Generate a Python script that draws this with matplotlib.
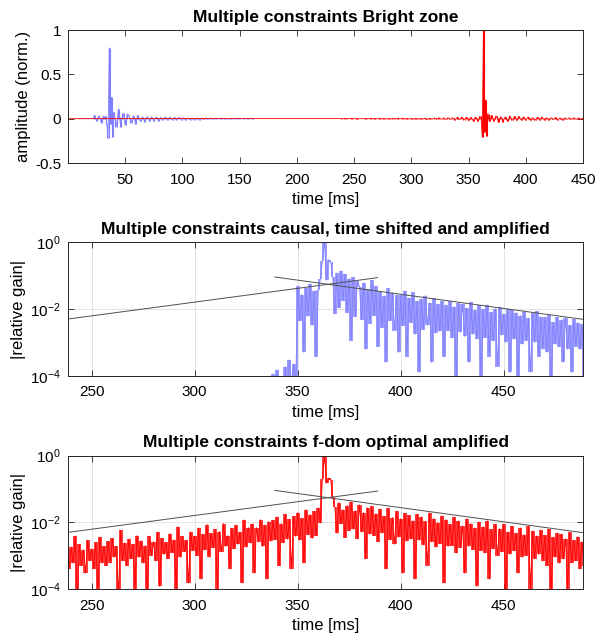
import numpy as np
import matplotlib
matplotlib.use("Agg")
import matplotlib.pyplot as plt
from matplotlib.ticker import NullLocator

# --- data: filter amplitudes in 1e-3 units, one sample per ms ---
CAUSAL_T0 = 9     # ms, first stored sample of the causal filter
FDOM_T0 = 238     # ms, first stored sample of the f-dom optimal filter
SHIFT_MS = 327    # time shift applied to the causal filter

causal_amp = [
    0.03, 0.01, -0.09, -0.02, 0.12, 0.02, -0.04, -0.01, 0.15, 0.03,     # 9-18
    0.24, 0.05, -0.18, -0.03,                                           # 19-22
    38.0, 3.5, -21.7, -0.4, 33.6, 4.8, -45.2, -2.6, 27.9, 0.3,          # 23-32
    29.1, -61.8, -220, 800, -58.3, 240, -205, 72.4, 5.7, -96.0,         # 33-42
    -8.5, 112.0, 14.3, -88.6, -6.2, 65.1, 0.9, -71.3, -4.7, 54.7,       # 43-52
    36.9, 3.8, -49.2, -0.5, 31.4, 2.9, -57.5, -5.1, 38.8, 0.6,          # 53-62
    -26.7, -2.2, 19.9, 0.2, -33.4, -3.6, 24.3, 1.8, -21.6, -0.4,        # 63-72
    21.6, 2.5, -28.0, -0.3, 17.4, 3.1, -25.2, -1.4, 13.6, 0.1,          # 73-82
    -15.8, -1.9, 20.3, 2.6, -12.4, -0.2, 16.9, 1.5, -11.2, -1.7,        # 83-92
    14.1, 0.3, -10.7, -1.8, 13.5, 1.1, -9.4, -0.06, 12.0, 1.6,          # 93-102
    -11.6, -1.2, 8.5, 0.2, -12.9, -1.4, 7.3, 1.0, -10.2, -0.05,         # 103-112
    7.8, 1.1, -10.6, -0.3, 6.4, 0.9, -8.2, -0.15, 9.1, 1.3,             # 113-122
    -5.7, -0.8, 8.0, 0.1, -7.3, -1.0, 6.2, 0.06, -5.1, -0.7,            # 123-132
    6.6, 0.9, -4.2, -0.1, 5.9, 0.8, -6.8, -0.3, 4.6, 0.5,               # 133-142
    -4.6, -0.4, 5.3, 0.04, -3.2, -0.7, 4.5, 0.6, -3.8, -0.2,            # 143-152
    4.4, 0.5, -2.6, -0.1, 3.9, 0.6, -3.1, -0.5, 2.8, 0.08,              # 153-162
]

fdom_amp = [
    2.4, 0.4, -1.8, -0.6, 3.9, 0.05, -2.2, -0.5, 1.5, 0.3,              # 238-247
    2.9, 0.7, -1.6, -0.4, 2.5, 0.08, -3.6, -0.6, 1.9, 0.5,              # 248-257
    -2.7, -0.6, 3.3, 0.9, -1.9, -0.06, 5.8, 0.7, -2.4, -0.5,            # 258-267
    3.1, 0.8, -2.2, -0.1, 4.0, 0.9, -2.8, -0.6, 2.0, 0.07,              # 268-277
    -3.9, -1.0, 2.6, 0.7, -5.1, -0.12, 3.3, 1.1, -2.5, -0.8,            # 278-287
    4.6, 1.2, -3.0, -0.09, 7.4, 0.9, -3.8, -1.3, 2.9, 0.15,             # 288-297
    -5.2, -1.4, 3.9, 1.0, -6.8, -0.2, 4.4, 1.5, -8.6, -0.9,             # 298-307
    4.7, 1.7, -6.1, -0.1, 5.3, 1.3, -9.2, -1.9, 4.0, 0.4,               # 308-317
    -6.6, -1.6, 8.3, 2.2, -5.2, -0.15, 11.8, 1.8, -7.0, -2.4,           # 318-327
    9.0, 0.3, -6.9, -2.6, 12.1, 1.9, -8.3, -0.2, 10.5, 2.7,             # 328-337
    -11.4, -3.0, 14.6, 0.5, -9.2, -2.4, 17.8, 3.1, -12.3, -0.4,         # 338-347
    15.2, 3.8, -19.6, -2.9, 13.4, 0.6, -24.0, -4.2, 17.1, 3.3,          # 348-357
    -21.5, -4.0, 27.3, -9.6, -205, 1000, -150, 212, -192, 58.0,         # 358-367
    -28.6, -4.7, 38.4, 9.1, -24.2, -3.5, 31.8, 5.6, -41.0, -6.2,        # 368-377
    22.4, 3.2, -33.8, -5.1, 19.7, 0.8, -27.5, -4.4, 30.6, 3.9,          # 378-387
    -18.3, -2.6, 24.9, 4.8, -15.1, -0.4, 26.7, 3.0, -13.9, -2.2,        # 388-397
    21.4, 3.6, -12.8, -0.3, 18.9, 2.7, -16.2, -3.1, 11.3, 0.2,          # 398-407
    -17.6, -2.9, 14.4, 2.1, -10.7, -0.5, 19.2, 2.6, -13.0, -1.8,        # 408-417
    9.8, 2.3, -15.6, -0.15, 12.1, 1.9, -8.7, -2.0, 14.3, 1.2,           # 418-427
    -11.0, -1.7, 7.9, 0.3, -12.6, -1.9, 9.2, 1.5, -6.8, -0.12,          # 428-437
    10.3, 1.4, -7.4, -1.2, 11.2, 0.2, -6.1, -1.6, 8.8, 1.0,             # 438-447
    -6.5, -1.3, 8.9, 0.08, -5.2, -1.1, 7.6, 1.4, -4.8, -0.3,            # 448-457
    6.9, 0.9, -4.3, -1.0, 7.7, 0.1, -5.5, -0.8, 3.9, 1.1,               # 458-467
    -5.9, -0.7, 4.1, 0.5, -6.2, -0.06, 3.6, 0.9, -4.7, -0.6,            # 468-477
    4.4, 0.8, -3.2, -0.1, 5.0, 0.6, -2.9, -0.7, 3.7, 0.4,               # 478-487
    -2.6, -0.5,                                                         # 488-489
]

# exponential fits (straight on the log axis)
rise_fit_ms = [238.5, 388.8]
rise_fit_gain = [5.0e-3, 8.7e-2]
decay_fit_ms = [338.9, 488.5]
decay_fit_gain = [9.1e-2, 4.9e-3]

top_xticks = [50, 100, 150, 200, 250, 300, 350, 400, 450]
top_yticks = [-0.5, 0, 0.5, 1]
log_xticks = [250, 300, 350, 400, 450]
log_yticks = [1e-4, 1e-2, 1e0]

# --- derived series ---
causal = np.array(causal_amp) * 1e-3
fdom = np.array(fdom_amp) * 1e-3
t_causal = CAUSAL_T0 + np.arange(len(causal))
t_fdom = FDOM_T0 + np.arange(len(fdom))

BLUE = "#8080ff"
RED = "#ff0000"
FIT = "#505050"
EDGE = "#262626"

plt.rcParams["font.family"] = ["Liberation Sans", "DejaVu Sans"]
plt.rcParams["mathtext.fontset"] = "custom"
plt.rcParams["mathtext.rm"] = "Liberation Sans"
plt.rcParams["mathtext.it"] = "Liberation Sans:italic"

fig = plt.figure(figsize=(5.96, 6.43), dpi=100)
ax1 = fig.add_axes([0.1141, 0.7465, 0.8641, 0.2068])
ax2 = fig.add_axes([0.1141, 0.4157, 0.8641, 0.2075])
ax3 = fig.add_axes([0.1141, 0.0840, 0.8641, 0.2073])


def style(ax):
    for s in ax.spines.values():
        s.set_color(EDGE)
        s.set_linewidth(0.7)
    ax.tick_params(direction="in", top=True, right=True, length=4,
                   width=0.6, color=EDGE, labelsize=11, pad=7)
    ax.tick_params(axis="y", pad=5)


def trace(ax, t, v, color, col_lw):
    # dense filter response: fill the span swept between neighbouring samples,
    # then the sample-to-sample line on top
    mid = (t[:-1] + t[1:]) / 2
    ax.vlines(mid, np.minimum(v[:-1], v[1:]), np.maximum(v[:-1], v[1:]),
              color=color, lw=col_lw)
    ax.plot(t, v, color=color, lw=0.6)


# top: both filters on a linear axis
trace(ax1, t_causal, causal, BLUE, 0.8)
trace(ax1, np.r_[0, t_fdom], np.r_[0, fdom], RED, 0.8)
ax1.set_xlim(0, 450)
ax1.set_ylim(-0.5, 1)
ax1.set_xticks(top_xticks)
ax1.set_yticks(top_yticks)
ax1.set_yticklabels(["-0.5", "0", "0.5", "1"])
ax1.set_title("Multiple constraints Bright zone", fontsize=12.5,
              fontweight="bold", pad=6)
ax1.set_xlabel("time [ms]", fontsize=12, labelpad=4)
ax1.set_ylabel("amplitude (norm.)", fontsize=12, labelpad=3)
style(ax1)

panels = [
    (ax2, t_causal + SHIFT_MS, causal, BLUE,
     "Multiple constraints causal, time shifted and amplified"),
    (ax3, t_fdom, fdom, RED,
     "Multiple constraints f-dom optimal amplified"),
]
for ax, t, h, col, title in panels:
    ax.set_yscale("log", nonpositive="mask")
    trace(ax, t, np.abs(h) / np.abs(h).max(), col, 1.1)
    ax.plot(rise_fit_ms, rise_fit_gain, color=FIT, lw=0.7)
    ax.plot(decay_fit_ms, decay_fit_gain, color=FIT, lw=0.7)
    ax.set_xlim(238.5, 488.5)
    ax.set_ylim(1e-4, 1)
    ax.set_xticks(log_xticks)
    ax.set_yticks(log_yticks)
    ax.yaxis.set_minor_locator(NullLocator())
    ax.grid(True, color="#e3e3e3", lw=0.7)
    ax.set_axisbelow(True)
    ax.set_title(title, fontsize=12.5, fontweight="bold", pad=6)
    ax.set_xlabel("time [ms]", fontsize=12, labelpad=4)
    ax.set_ylabel("|relative gain|", fontsize=12, labelpad=3)
    style(ax)

fig.savefig("out.png", dpi=100, facecolor="white")
